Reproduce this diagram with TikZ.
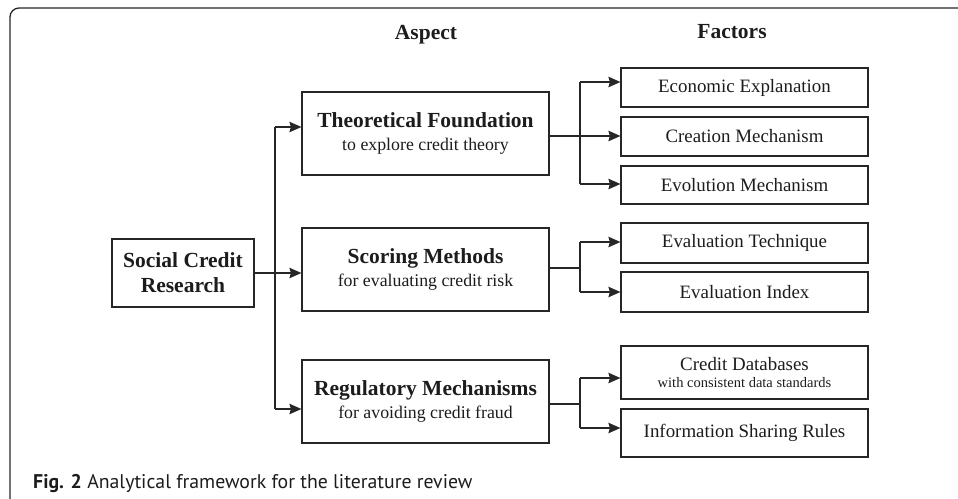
\documentclass[tikz,border=0pt]{standalone}
\usepackage{fontspec}
\setmainfont{Liberation Serif}
\newfontfamily\capfont{PT Sans}
\usetikzlibrary{arrows.meta,calc}
\definecolor{ln}{HTML}{262626}
\definecolor{tx}{HTML}{1C1C1C}
\tikzset{
  box/.style={draw=ln,line width=1.2pt,rectangle,inner sep=0pt,align=center,text=tx,minimum width=247pt},
  abox/.style={box,minimum height=83pt,font=\fontsize{21.5}{23}\selectfont},
  fbox/.style={box,font=\fontsize{18.9}{22}\selectfont},
  conn/.style={draw=ln,line width=1.2pt},
  arr/.style={conn,-{Stealth[length=12pt,width=10.5pt,inset=1.5pt]}},
  hdr/.style={font=\fontsize{21.5}{24}\selectfont\bfseries,text=tx,inner sep=0pt}
}
\newcommand{\ttl}[1]{{\fontsize{21.5}{23}\selectfont\bfseries #1}}
\newcommand{\sbt}[1]{{\fontsize{17.8}{23}\selectfont #1}}
\begin{document}
\begin{tikzpicture}[x=1pt,y=-1pt]
\useasboundingbox (0,0) rectangle (958,498);
% frame
\draw[ln,line width=1.3pt,rounded corners=9pt] (10,505) -- (10,8) -- (965,8);
% headers
\node[hdr] (hA) at (426,35) {Aspect};
\node[hdr] (hF) at (732,32) {Factors};
% main boxes
\node[box,minimum width=142pt,minimum height=68pt,font=\fontsize{21.5}{25}\selectfont\bfseries] (scr) at (183,273) {Social Credit\\Research};
\node[abox] (tf) at (425.5,133.5) {\ttl{Theoretical Foundation}\\\sbt{to explore credit theory}};
\node[abox] (sm) at (425.5,269.5) {\ttl{Scoring Methods}\\\sbt{for evaluating credit risk}};
\node[abox] (rm) at (425.5,401.5) {\ttl{Regulatory Mechanisms}\\\sbt{for avoiding credit fraud}};
% factor boxes
\node[fbox,minimum height=39pt] (ee) at (744.5,87.5) {Economic Explanation};
\node[fbox,minimum height=39pt] (cm) at (744.5,136.5) {Creation Mechanism};
\node[fbox,minimum height=38pt] (em) at (744.5,185) {Evolution Mechanism};
\node[fbox,minimum height=40pt] (et) at (744.5,243) {Evaluation Technique};
\node[fbox,minimum height=40pt] (ei) at (744.5,292) {Evaluation Index};
\node[box,minimum height=53pt,font=\fontsize{14.5}{17.5}\selectfont] (cd) at (744.5,372.5) {{\fontsize{18.9}{17.5}\selectfont Credit Databases}\\with consistent data standards};
\node[fbox,minimum height=48pt] (isr) at (744.5,433) {Information Sharing Rules};
% left connectors
\coordinate (jt) at (275,127);
\coordinate (jb) at (275,409);
\draw[conn] (jt) -- (jb);
\draw[arr] (jt) -- (jt -| tf.west);
\draw[arr] (jb) -- (jb -| rm.west);
\draw[arr] (scr.east) -- (scr.east -| sm.west);
% theoretical -> factors
\coordinate (a1) at (580,82);
\coordinate (a2) at (580,136);
\coordinate (a3) at (580,184);
\draw[conn] (a1) -- (a3);
\draw[conn] (a2 -| tf.east) -- (a2);
\draw[arr] (a1) -- (a1 -| ee.west);
\draw[arr] (a2) -- (a2 -| cm.west);
\draw[arr] (a3) -- (a3 -| em.west);
% scoring -> factors
\coordinate (b0) at (580,268);
\coordinate (b1) at (580,242);
\coordinate (b2) at (580,292);
\draw[conn] (b1) -- (b2);
\draw[conn] (b0 -| sm.east) -- (b0);
\draw[arr] (b1) -- (b1 -| et.west);
\draw[arr] (b2) -- (b2 -| ei.west);
% regulatory -> factors
\coordinate (c0) at (580,404);
\coordinate (c1) at (580,378);
\coordinate (c2) at (580,428);
\draw[conn] (c1) -- (c2);
\draw[conn] (c0 -| rm.east) -- (c0);
\draw[arr] (c1) -- (c1 -| cd.west);
\draw[arr] (c2) -- (c2 -| isr.west);
% caption
\node[anchor=base west,inner sep=0pt,text=tx,font=\capfont\fontsize{19.8}{22}\selectfont] (cap) at (33,488) {\textbf{Fig. 2} Analytical framework for the literature review};
\end{tikzpicture}
\end{document}
